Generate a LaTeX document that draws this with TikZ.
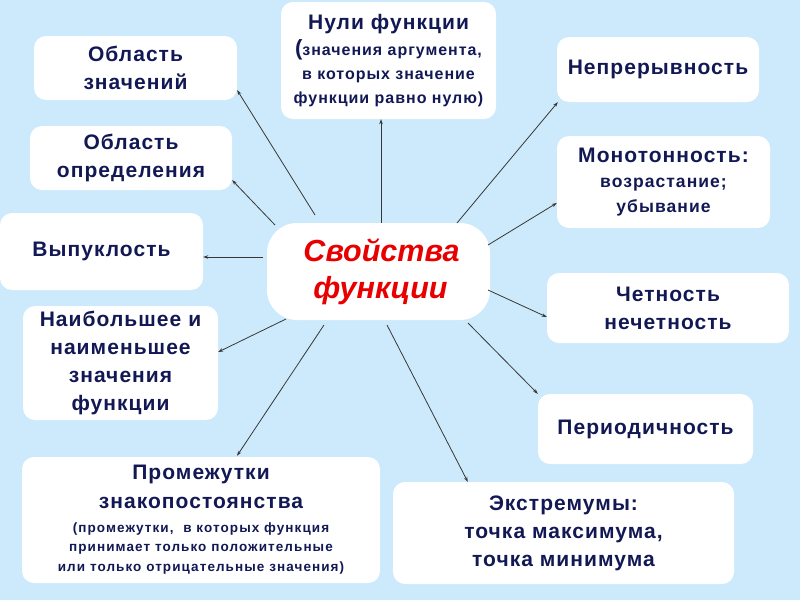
\documentclass[tikz,border=0pt]{standalone}
\usepackage{fontspec}
\setmainfont{Liberation Sans}
\newfontfamily\bxf[LetterSpace=5]{Liberation Sans}
\newfontfamily\smf[LetterSpace=6]{Liberation Sans}
\newfontfamily\tnf[LetterSpace=8]{Liberation Sans}
\usetikzlibrary{arrows.meta}
\definecolor{bg}{RGB}{205,234,252}
\definecolor{ink}{RGB}{18,24,84}
\definecolor{hot}{RGB}{232,0,0}
\definecolor{ln}{RGB}{55,55,55}
\newcommand\smalltxt{\smf\bfseries\fontsize{16}{20}\selectfont}
\newcommand\midtxt{\smf\bfseries\fontsize{17.5}{22}\selectfont}
\newcommand\tinytxt{\tnf\bfseries\fontsize{13.5}{18}\selectfont}
\tikzset{
 box/.style={draw=none, fill=white, rounded corners=12pt, inner sep=0pt, align=center, text=ink, font=\bxf\bfseries\fontsize{21}{28}\selectfont},
 hub/.style={draw=none, fill=white, rounded corners=30pt, inner sep=0pt, align=center, text=hot, font=\bfseries\itshape\fontsize{30.5}{37}\selectfont},
 arr/.style={draw=ln, line width=0.8pt, -{Stealth[length=5pt,width=3.5pt]}},
}
\begin{document}
\begin{tikzpicture}[x=1pt,y=-1pt]
\fill[bg] (0,0) rectangle (800,600);
\useasboundingbox (0,0) rectangle (800,600);

\node[hub, minimum width=223pt, minimum height=97pt] (c) at (378.5,271.5) {\hspace*{6pt}Свойства\\\hspace*{4pt}функции};

\node[box, minimum width=203pt, minimum height=64pt] (zn) at (135.5,68) {Область\\значений};
\node[box, minimum width=202pt, minimum height=64pt] (od) at (131,158) {Область\\определения};
\node[box, minimum width=215pt, minimum height=117pt] (nu) at (388.5,60.5) {Нули функции\\[-2pt]{\smalltxt{\fontsize{22}{20}\selectfont(}значения аргумента,}\\[-4pt]{\smalltxt в которых значение}\\[-4pt]{\smalltxt функции равно нулю)}};
\node[box, minimum width=202pt, minimum height=65pt] (ne) at (658,69.5) {Непрерывность};
\node[box, minimum width=213pt, minimum height=92pt] (mo) at (663.5,182) {Монотонность:\\[-3pt]{\midtxt возрастание;}\\[-3pt]{\midtxt убывание}};
\node[box, minimum width=242pt, minimum height=70pt] (ch) at (668,308) {Четность\\нечетность};
\node[box, minimum width=215pt, minimum height=70pt] (pe) at (645.5,429) {Периодичность};
\node[box, minimum width=341pt, minimum height=102pt] (ex) at (563.5,533) {Экстремумы:\\точка максимума,\\точка минимума};
\node[box, minimum width=358pt, minimum height=126pt] (pr) at (201,520) {Промежутки\\[1pt]знакопостоянства\\[-4pt]{\tinytxt (промежутки,\ \ в которых функция}\\[-9pt]{\tinytxt принимает только положительные}\\[-8pt]{\tinytxt или только отрицательные значения)}};
\node[box, minimum width=195pt, minimum height=114pt] (nb) at (120.5,363) {Наибольшее и\\наименьшее\\значения\\функции};
\node[box, minimum width=203pt, minimum height=77pt] (vy) at (101.5,251.5) {Выпуклость};

\coordinate (s1) at (315,215);
\coordinate (s2) at (275,225);
\coordinate (s3) at (263,257);
\coordinate (s4) at (286,319);
\coordinate (s5) at (324,325);
\coordinate (s6) at (387,325);
\coordinate (s7) at (468,323);
\coordinate (s8) at (488,290);
\coordinate (s9) at (488,245);
\coordinate (s10) at (457,223);
\coordinate (s11) at (381,223);

\draw[arr] (s1) -- ([yshift=10pt]zn.south east);
\draw[arr] (s2) -- ([yshift=10pt]od.south east);
\draw[arr] (s3) -- (vy.east |- s3);
\draw[arr] (s4) -- ([yshift=11pt]nb.east);
\draw[arr] (s5) -- ([xshift=36pt,yshift=1pt]pr.north);
\draw[arr] (s6) -- ([xshift=75pt]ex.north west);
\draw[arr] (s7) -- (pe.north west);
\draw[arr] (s8) -- ([yshift=-9pt]ch.west);
\draw[arr] (s9) -- ([yshift=-21pt]mo.west);
\draw[arr] (s10) -- ([xshift=1pt]ne.south west);
\draw[arr] (s11) -- (nu.south -| s11);
\end{tikzpicture}
\end{document}
